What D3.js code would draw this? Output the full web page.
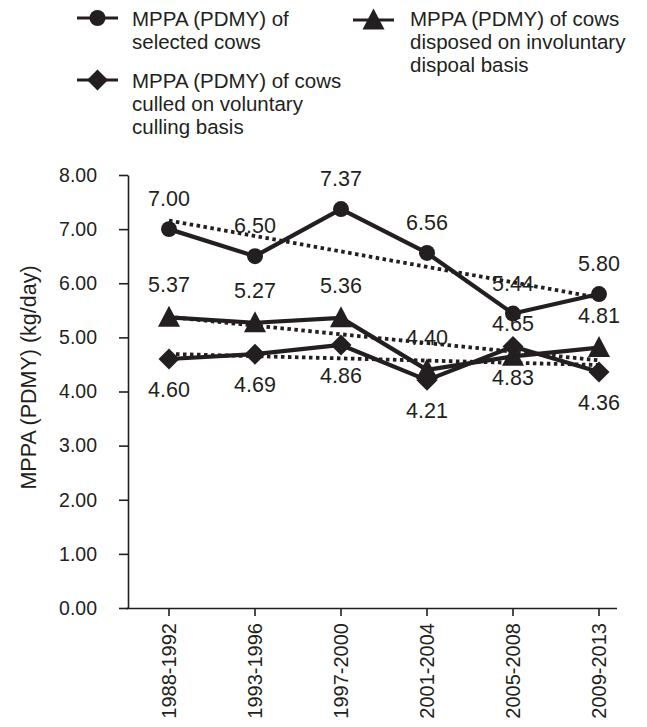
<!DOCTYPE html>
<html>
<head>
<meta charset="utf-8">
<script src="https://cdn.jsdelivr.net/npm/d3@7"></script>
<style>
  html, body { margin: 0; padding: 0; background: #ffffff; }
  svg { display: block; font-family: "Liberation Sans", Arial, Helvetica, sans-serif; }
</style>
</head>
<body>
<svg id="chart" width="647" height="727"></svg>
<script>
// ---- data ----
const categories = ["1988-1992", "1993-1996", "1997-2000", "2001-2004", "2005-2008", "2009-2013"];
const selectedCows = [7.00, 6.50, 7.37, 6.56, 5.44, 5.80];
const involuntaryCows = [5.37, 5.27, 5.36, 4.40, 4.65, 4.81];
const voluntaryCows = [4.60, 4.69, 4.86, 4.21, 4.83, 4.36];
const yTicks = [0, 1, 2, 3, 4, 5, 6, 7, 8];
const yTitle = "MPPA (PDMY) (kg/day)";
const legendSelected = ["MPPA (PDMY) of", "selected cows"];
const legendInvoluntary = ["MPPA (PDMY) of cows", "disposed on involuntary", "dispoal basis"];
const legendVoluntary = ["MPPA (PDMY) of cows", "culled on voluntary", "culling basis"];

const ink = "#231f20";
const svg = d3.select("#chart");

const x = d3.scaleBand().domain(categories).range([126, 642]).padding(0);
const cx = c => x(c) + x.bandwidth() / 2;
const y = d3.scaleLinear().domain([0, 8]).range([608, 175]);

// ---- axes ----
const yAxis = svg.append("g")
  .attr("transform", "translate(128,0)")
  .call(d3.axisLeft(y).tickValues(yTicks).tickFormat(d3.format(".2f")).tickSize(9).tickSizeOuter(0).tickPadding(22));
yAxis.selectAll("path, line").attr("stroke", ink).attr("stroke-width", 1.6);
yAxis.selectAll("text").attr("fill", ink).style("font-size", "19.5px").style("font-family", "Liberation Sans, Arial, sans-serif");

const xAxis = svg.append("g")
  .attr("transform", "translate(0,608)")
  .call(d3.axisBottom(x).tickSize(8).tickSizeOuter(0));
xAxis.select(".domain").attr("d", "M126,0.5H617").attr("stroke", ink).attr("stroke-width", 1.6);
xAxis.selectAll("line").attr("stroke", ink).attr("stroke-width", 1.6);
xAxis.selectAll("text")
  .attr("fill", ink)
  .style("font-size", "20px")
  .style("font-family", "Liberation Sans, Arial, sans-serif")
  .attr("transform", "rotate(-90)")
  .attr("x", -15).attr("y", 0).attr("dy", "0.36em")
  .style("text-anchor", "end");

svg.append("text")
  .attr("transform", "translate(36," + (y(4) - 14) + ") rotate(-90)")
  .attr("text-anchor", "middle")
  .attr("fill", ink)
  .style("font-size", "21.5px")
  .text(yTitle);

// ---- series ----
const series = [
  { vals: selectedCows, marker: "circle", labelDy: -23 },
  { vals: involuntaryCows, marker: "triangle", labelDy: -25 },
  { vals: voluntaryCows, marker: "diamond", labelDy: 38 }
];

function regression(vals) {
  const n = vals.length;
  const xs = vals.map((_, i) => i);
  const mx = d3.mean(xs), my = d3.mean(vals);
  const sxy = d3.sum(xs, (xi, i) => (xi - mx) * (vals[i] - my));
  const sxx = d3.sum(xs, xi => (xi - mx) * (xi - mx));
  const b = sxy / sxx, a = my - b * mx;
  return [{ i: 0, v: a }, { i: n - 1, v: a + b * (n - 1) }];
}

const lineGen = d3.line().x((d, i) => cx(categories[i])).y(d => y(d));

// trendlines (dotted)
series.forEach(s => {
  const tr = regression(s.vals);
  svg.append("path")
    .attr("d", d3.line().x(d => cx(categories[d.i])).y(d => y(d.v))(tr))
    .attr("fill", "none")
    .attr("stroke", ink)
    .attr("stroke-width", 3.8)
    .attr("stroke-dasharray", "3.5,3.5");
});

// solid lines
series.forEach(s => {
  svg.append("path")
    .attr("d", lineGen(s.vals))
    .attr("fill", "none")
    .attr("stroke", ink)
    .attr("stroke-width", 4.2)
    .attr("stroke-linejoin", "round");
});

function drawMarker(g, type, px, py, size) {
  if (type === "circle") {
    g.append("circle").attr("cx", px).attr("cy", py).attr("r", size * 0.38).attr("fill", ink);
  } else if (type === "triangle") {
    const w = size * 1.05, h = size;
    g.append("path")
      .attr("d", `M${px},${py - h * 0.55}L${px + w / 2},${py + h * 0.45}L${px - w / 2},${py + h * 0.45}Z`)
      .attr("fill", ink);
  } else {
    const r = size / 2;
    g.append("path")
      .attr("d", `M${px},${py - r}L${px + r},${py}L${px},${py + r}L${px - r},${py}Z`)
      .attr("fill", ink);
  }
}

// markers
const mg = svg.append("g");
series.forEach(s => {
  s.vals.forEach((v, i) => drawMarker(mg, s.marker, cx(categories[i]), y(v), 21));
});

// value labels
series.forEach(s => {
  svg.append("g").selectAll("text")
    .data(s.vals)
    .join("text")
    .attr("x", (d, i) => cx(categories[i]))
    .attr("y", d => y(d) + s.labelDy)
    .attr("text-anchor", "middle")
    .attr("fill", ink)
    .style("font-size", "21.5px")
    .text(d => d3.format(".2f")(d));
});

// ---- legend ----
function legendItem(lx, ly, type, lines, tx, firstBaseline) {
  const g = svg.append("g");
  g.append("line").attr("x1", lx).attr("x2", lx + 41).attr("y1", ly).attr("y2", ly)
    .attr("stroke", ink).attr("stroke-width", 3);
  drawMarker(g, type, lx + 20.5, ly, 21);
  g.append("g").selectAll("text").data(lines).join("text")
    .attr("x", tx)
    .attr("y", (d, i) => firstBaseline + i * 23)
    .attr("fill", ink)
    .style("font-size", "20.5px")
    .text(d => d);
}
legendItem(77, 18, "circle", legendSelected, 132, 26);
legendItem(353, 20, "triangle", legendInvoluntary, 410, 26);
legendItem(77, 80, "diamond", legendVoluntary, 132, 88);
</script>
</body>
</html>
